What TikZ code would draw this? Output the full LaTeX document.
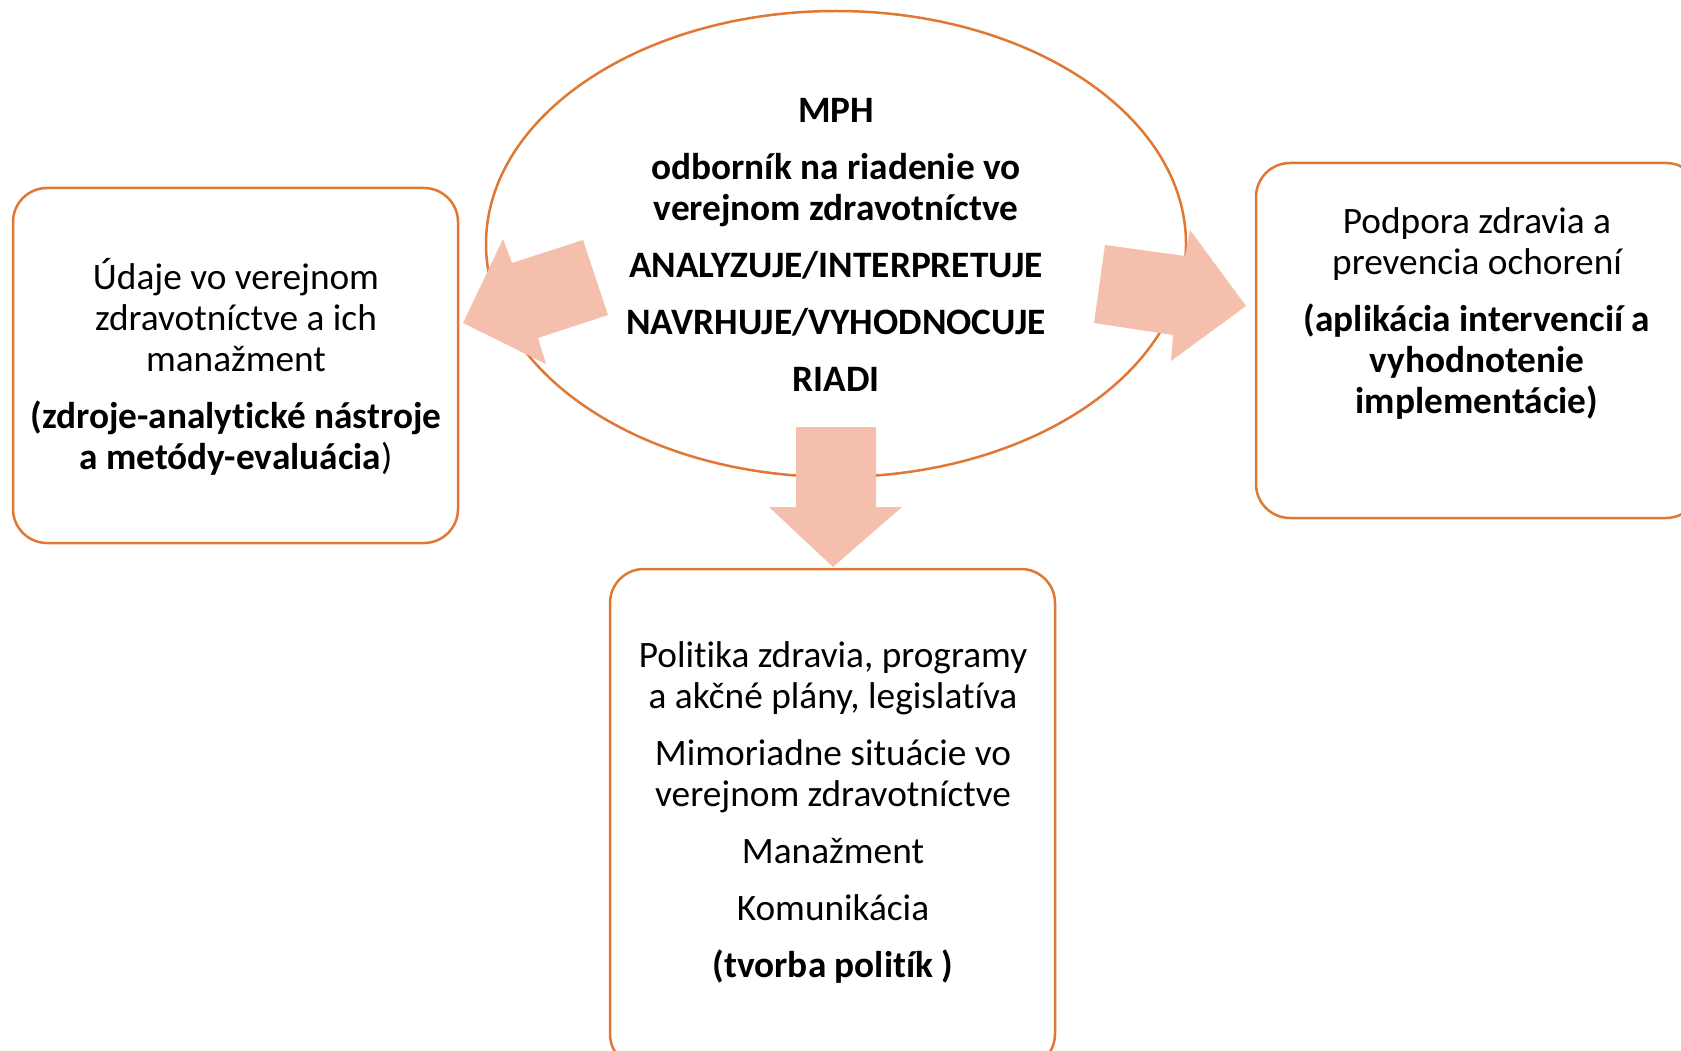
\documentclass[tikz,border=0pt]{standalone}
\usepackage{fontspec}
\setmainfont{Carlito}[Ligatures=NoCommon]
\usetikzlibrary{shapes.geometric}
\definecolor{frameor}{HTML}{E07833}
\definecolor{arrowfill}{HTML}{F4BFAD}
\tikzset{
  box/.style={draw=frameor, line width=2.5pt, rounded corners=34pt, fill=white},
  txt/.style={align=center, font=\fontsize{37.3}{41}\selectfont, inner sep=0pt},
  blockarrow/.style={fill=arrowfill, draw=none},
}
\begin{document}
\begin{tikzpicture}[x=1pt, y=-1pt]
\useasboundingbox (0,0) rectangle (1681,1051);
\clip (0,0) rectangle (1681,1051);
% main ellipse
\node[draw=frameor, line width=2.5pt, ellipse, minimum width=700pt, minimum height=466pt, inner sep=0pt] (mph) at (836,244) {};
% boxes
\draw[box] (13,188) rectangle (458,543);
\node[inner sep=0pt, minimum width=445pt, minimum height=355pt] (left) at (235.5,365.5) {};
\draw[box] (1256,163) rectangle (1700,518);
\node[inner sep=0pt, minimum width=444pt, minimum height=355pt] (right) at (1478,340.5) {};
\draw[box] (610,569) rectangle (1055,1068);
\node[inner sep=0pt, minimum width=445pt, minimum height=499pt] (bottom) at (832.5,818.5) {};
% block arrows
\fill[blockarrow] (583,240) -- (608,315) -- (538,338) -- (546,364) -- (463,323) -- (503,239) -- (512,263) -- cycle;
\fill[blockarrow] (1105,245) -- (1185,256) -- (1190,230) -- (1246,306) -- (1171,361) -- (1173,335) -- (1094,323) -- cycle;
\fill[blockarrow] (796,427) -- (876,427) -- (876,507) -- (902,507) -- (833,567) -- (769,507) -- (796,507) -- cycle;
% texts
\node[txt, font=\fontsize{37.3}{41}\selectfont\bfseries] (mphtext) at (836,245) {MPH\\[16pt]
odborník na riadenie vo\\verejnom zdravotníctve\\[16pt]
ANALYZUJE/INTERPRETUJE\\[16pt]
NAVRHUJE/VYHODNOCUJE\\[16pt]
RIADI};
\node[txt] (lefttext) at (236,367) {Údaje vo verejnom\\zdravotníctve a ich\\manažment\\[16pt]
\textbf{(zdroje-analytické nástroje}\\\textbf{a metódy-evaluácia})};
\node[txt] (righttext) at (1477,313.5) {Podpora zdravia a\\prevencia ochorení\\[16pt]
\textbf{(aplikácia intervencií a}\\\textbf{vyhodnotenie}\\\textbf{implementácie)}};
\node[txt] (bottomtext) at (833,812) {Politika zdravia, programy\\a akčné plány, legislatíva\\[16pt]
Mimoriadne situácie vo\\verejnom zdravotníctve\\[16pt]
Manažment\\[16pt]
Komunikácia\\[16pt]
\textbf{(tvorba politík )}};
\end{tikzpicture}
\end{document}
